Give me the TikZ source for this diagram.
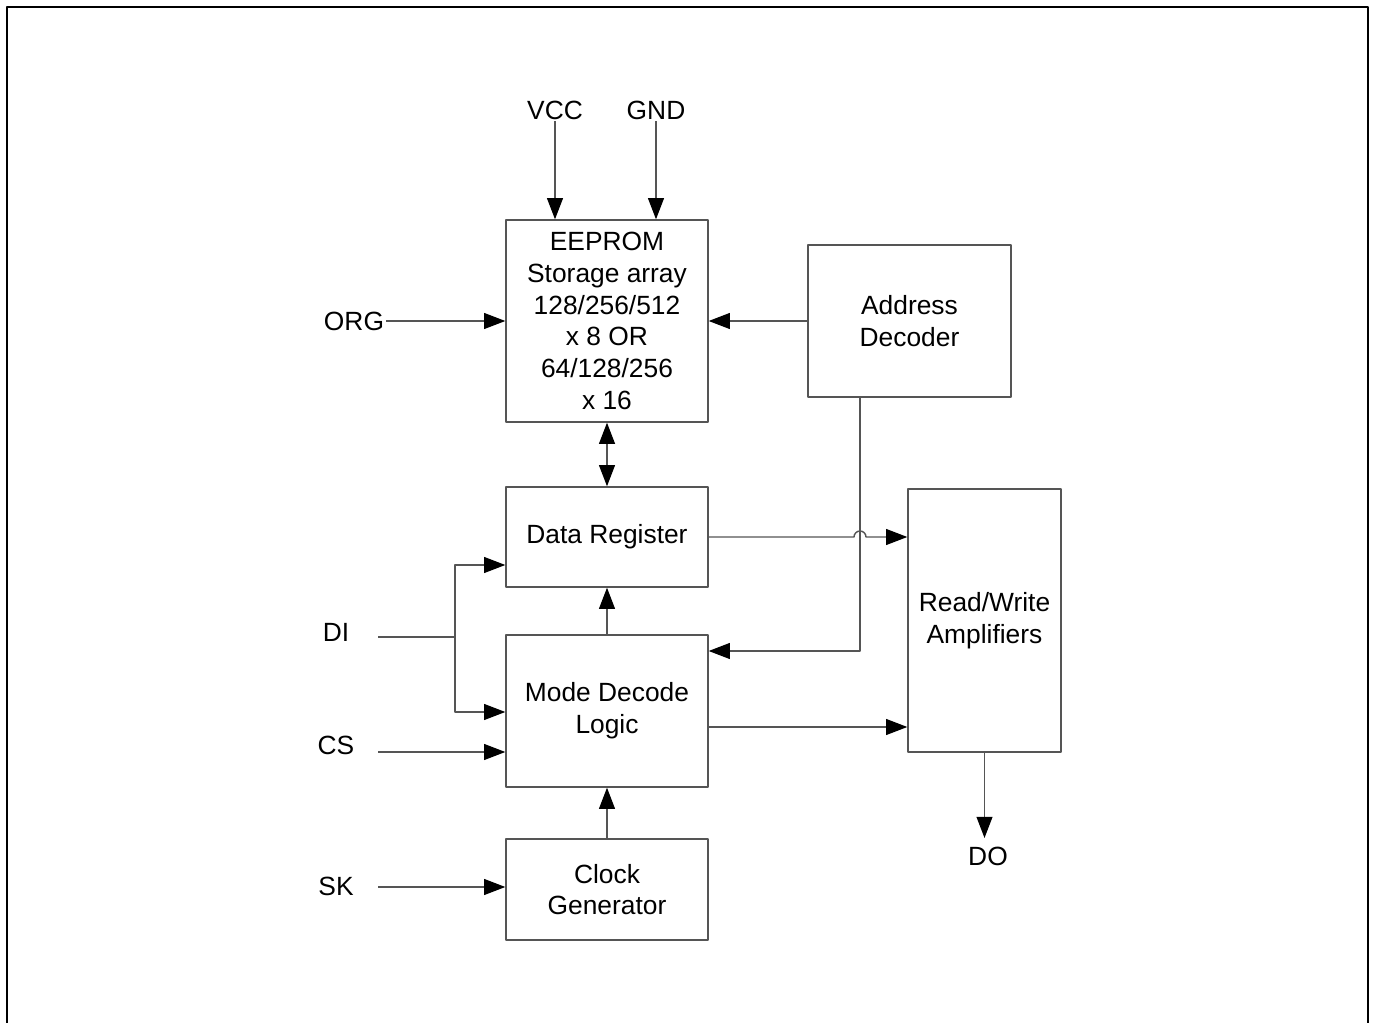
\documentclass[tikz,border=0pt]{standalone}
\usepackage{fontspec}
\setmainfont{Liberation Sans}
\usetikzlibrary{arrows.meta}

\definecolor{wiregray}{RGB}{85,85,85}

\begin{document}
\begin{tikzpicture}[x=0.02cm, y=-0.02cm,
	>={Triangle[length=12pt, width=9pt, color=black]},
	line join=round,
	blk/.style={draw=wiregray, line width=0.8pt, align=center, inner sep=0pt,
		font=\fontsize{15}{18.1}\selectfont},
	lbl/.style={inner sep=1pt, font=\fontsize{15}{18.1}\selectfont},
	sig/.style={draw=wiregray, line width=0.8pt, ->},
	wire/.style={draw=wiregray, line width=0.8pt}]

	\useasboundingbox (0,0) rectangle (1373,1023);
	% ================= frame (open at the bottom) =================
	\draw[line width=1.6pt] (7,1023) -- (7,7) -- (1368,7) -- (1368,1023);

	% ================= blocks =================
	\node[blk, minimum width=4.04cm, minimum height=4.04cm] (eeprom) at (607,321)
		{EEPROM\\Storage array\\128/256/512\\x 8 OR\\64/128/256\\x 16};
	\node[blk, minimum width=4.06cm, minimum height=3.04cm] (addr) at (909.5,321)
		{Address\\Decoder};
	\node[blk, minimum width=4.04cm, minimum height=2.0cm] (data) at (607,537)
		{Data Register};
	\node[blk, minimum width=4.04cm, minimum height=3.04cm] (mode) at (607,711)
		{Mode Decode\\Logic};
	\node[blk, minimum width=4.04cm, minimum height=2.02cm] (clk) at (607,889.5)
		{Clock\\Generator};
	\node[blk, minimum width=3.06cm, minimum height=5.26cm] (rw) at (984.5,620.5)
		{Read/Write\\Amplifiers};

	% ================= pins =================
	\node[lbl] (vcc) at (555,110) {VCC};
	\node[lbl] (gnd) at (656,110) {GND};
	\node[lbl] (org) at (354,321) {ORG};
	\node[lbl] (di)  at (336,632) {DI};
	\node[lbl] (cs)  at (336,745) {CS};
	\node[lbl] (sk)  at (336,886) {SK};
	\node[lbl] (do)  at (988,856) {DO};

	\coordinate (diin) at (378,637);
	\coordinate (dibr) at (455,637);
	\coordinate (csin) at (378,752);
	\coordinate (skin) at (378,887);
	\coordinate (adtap) at (860,397);
	\coordinate (hop) at (860,537);
	\coordinate (modeout) at (708,727);

	% ================= connections =================
	\draw[sig] (vcc.south) -- (vcc.south |- eeprom.north);
	\draw[sig] (gnd.south) -- (gnd.south |- eeprom.north);
	\draw[sig] (org.east) -- (org.east -| eeprom.west);
	\draw[sig] (addr.west) -- (addr.west -| eeprom.east);
	\draw[sig, <->] (eeprom.south) -- (data.north);
	\draw[sig] (data.east) -- ([xshift=-0.12cm]hop)
		arc[start angle=180, end angle=0, radius=0.12cm] -- (data.east -| rw.west);
	\draw[sig] (adtap) |- (mode.east |- 0,651);
	\draw[sig] (mode.north) -- (data.south);
	\draw[wire] (diin) -- (dibr);
	\draw[sig] (dibr) |- (data.west |- 0,565);
	\draw[sig] (dibr) |- (mode.west |- 0,712);
	\draw[sig] (csin) -- (csin -| mode.west);
	\draw[sig] (modeout) -- (modeout -| rw.west);
	\draw[sig] (clk.north) -- (mode.south);
	\draw[sig] (skin) -- (skin -| clk.west);
	\draw[sig] (rw.south) -- (rw.south |- 0,838);

\end{tikzpicture}
\end{document}
